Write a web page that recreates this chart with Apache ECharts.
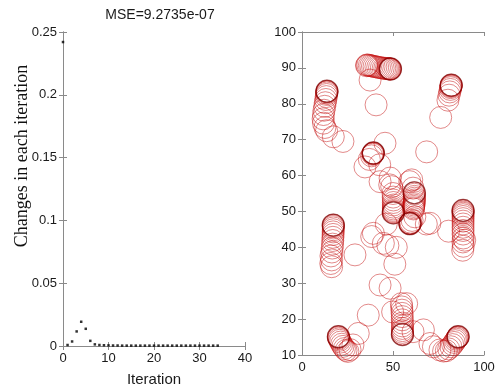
<!DOCTYPE html>
<html>
<head>
<meta charset="utf-8">
<script src="https://cdn.jsdelivr.net/npm/echarts@6/dist/echarts.min.js"></script>
<style>
  html, body { margin: 0; padding: 0; background: #fff; }
  #chart { width: 500px; height: 392px; }
</style>
</head>
<body>
<div id="chart"></div>
<script>
// left panel: change per iteration
const iterations = [0,1,2,3,4,5,6,7,8,9,10,11,12,13,14,15,16,17,18,19,20,21,22,23,24,25,26,27,28,29,30,31,32,33,34];
const changes = [0.242,0.0008,0.0036,0.0116,0.0193,0.0137,0.0041,0.0013,0.0008,0.0006,0.0005,0.0004,
  0.0004,0.0003,0.0003,0.0003,0.0003,0.0003,0.0003,0.0003,0.0003,0.0003,0.0003,0.0003,0.0003,0.0003,
  0.0003,0.0003,0.0003,0.0003,0.0003,0.0003,0.0003,0.0003,0.0003];
const leftYTicks = [0, 0.05, 0.1, 0.15, 0.2, 0.25];
const leftXTicks = [0, 10, 20, 30, 40];

// right panel: centre positions over the iterations, one list per centre
const topLeft = [[22.5,69.5],[17.2,70.8],[13.5,72.5],[12.6,73.4],[11.8,74.6],[11.6,75.8],[11.8,77],[12.1,78.2],
  [12.5,79.3],[12.8,80.3],[13.1,81.2],[13.3,82],[13.5,82.6],[13.6,83],[13.6,83.3],[13.7,83.4],[13.7,83.5]];
const topMid = [[40.7,79.7],[37.4,86.6],[35.5,90.6],[35.6,90.8],[36.2,90.8],[37,90.7],[37.8,90.6],[38.7,90.5],
  [39.6,90.4],[40.6,90.3],[41.6,90.2],[42.6,90.1],[43.6,90],[44.6,89.9],[45.5,89.9],[46.3,89.8],[47,89.8],
  [47.6,89.8],[48,89.7],[48.3,89.7],[48.5,89.7],[48.6,89.7]];
const topRight = [[68.5,66.6],[76.2,76.2],[80.2,81],[80.8,82.4],[81.2,83.3],[81.5,84],[81.7,84.5],[81.8,84.8],
  [81.9,85],[82,85.1],[82,85.2]];
const upperMid = [[45.6,69],[42.9,58.3],[42.7,63],[34.6,62.4],[37,64.5],[38.2,65.5],[38.8,65.9],[39,66.1],
  [39.1,66.2],[39.2,66.2],[39.2,66.3]];
const centreLeft = [[39.2,43.9],[38.3,43],[44.7,41.1],[47.2,40.5],[51.8,40],[51,35.3],[46.3,46.5],[59.2,58.3],
  [48.2,57.4],[48.4,59.3],[49.3,56.9],[50,55],[50.1,54],[50.2,53.2],[50.2,52.5],[50.2,51.8],[50.2,51.2],
  [50.2,50.7],[50.2,50.3],[50.2,50],[50.2,49.8],[50.2,49.6]];
const centreRight = [[60.3,58.8],[61,56.5],[61.2,50.7],[61.3,51],[61.4,51.4],[61.5,51.8],[61.6,52.2],[61.7,52.7],
  [61.8,53.2],[61.8,53.7],[61.8,54.2],[61.7,54.8],[61.7,55.2]];
const centreLow = [[70.3,46.7],[68.3,46.5],[62,48.5],[60.5,47.5],[59.8,47],[59.5,46.8],[59.3,46.7],[59.3,46.6],[59.3,46.6]];
const midRight = [[80.5,44.5],[89.4,42],[88.3,39.2],[88.6,40.3],[88.4,41.5],[88.6,42.6],[88.5,43.7],[88.5,44.7],
  [88.5,45.6],[88.5,46.5],[88.5,47.3],[88.5,48],[88.5,48.6],[88.5,49.1],[88.5,49.5],[88.5,49.8],[88.5,50.1],[88.5,50.3]];
const midLeft = [[29.1,37.9],[16.3,34.6],[15.8,35.5],[16.3,36.5],[15.9,37.6],[16.4,38.7],[16.6,39.8],[16.8,40.9],
  [16.9,41.9],[17,42.8],[17.1,43.6],[17.1,44.3],[17.2,44.9],[17.2,45.4],[17.2,45.8],[17.2,46.1],[17.2,46.2]];
const bottomLeft = [[36.4,21.1],[30.9,16],[28,12.8],[26.4,11.5],[25.2,11],[24.2,11.3],[23.3,11.8],[22.5,12.4],
  [21.8,13],[21.2,13.6],[20.7,14.1],[20.4,14.5],[20.1,14.8],[20,15],[20,15.1]];
const bottomMid = [[42.9,29.5],[48.4,28.6],[49.8,22],[57.5,24.3],[54.6,24.3],[54.8,23.4],[54.9,22.5],[55,21.6],
  [55.1,20.7],[55.1,19.8],[55.2,18.9],[55.2,18.1],[55.2,17.4],[55.2,16.8],[55.2,16.3],[55.2,15.9],[55.2,15.7]];
const bottomRight = [[61,16.5],[66.7,17],[70.3,13.2],[72.2,12.3],[75.8,11.4],[77.8,11.1],[79.3,11.2],[80.6,11.7],
  [81.8,12.3],[82.8,12.9],[83.6,13.5],[84.3,14],[84.8,14.4],[85.2,14.7],[85.5,14.9],[85.7,15],[85.8,15.1]];
const rightXTicks = [0, 50, 100];
const rightYTicks = [10, 20, 30, 40, 50, 60, 70, 80, 90, 100];

const centres = [topLeft, topMid, topRight, upperMid, centreLeft, centreRight, centreLow,
  midRight, midLeft, bottomLeft, bottomMid, bottomRight];

const font = "'Liberation Sans', Arial, sans-serif";
const axisGrey = "#8a8a8a";
const labelStyle = { color: "#1a1a1a", fontSize: 13, fontFamily: font };

function mainAxis(extra) {
  return {
    axisLine: { show: true, lineStyle: { color: axisGrey } },
    axisTick: { show: true, inside: true, length: 4, lineStyle: { color: axisGrey } },
    splitLine: { show: false },
    axisLabel: { ...labelStyle, margin: 6 },
    ...extra
  };
}
function mirrorAxis(extra) {
  return {
    axisLine: { show: true, lineStyle: { color: axisGrey } },
    axisTick: { show: true, inside: true, length: 4, lineStyle: { color: axisGrey } },
    splitLine: { show: false },
    axisLabel: { show: false },
    ...extra
  };
}

const chart = echarts.init(document.getElementById("chart"), null, { renderer: "canvas" });

const leftX = { min: leftXTicks[0], max: leftXTicks[leftXTicks.length - 1], interval: 10, gridIndex: 0 };
const leftY = { min: leftYTicks[0], max: leftYTicks[leftYTicks.length - 1], interval: 0.05, gridIndex: 0 };
const rightX = { min: rightXTicks[0], max: rightXTicks[rightXTicks.length - 1], interval: 50, gridIndex: 1 };
const rightY = { min: rightYTicks[0], max: rightYTicks[rightYTicks.length - 1], interval: 10, gridIndex: 1 };

const circleSeries = centres.map((pts) => ({
  type: "scatter",
  xAxisIndex: 1,
  yAxisIndex: 1,
  data: pts,
  symbol: "circle",
  symbolSize: 22,
  silent: true,
  itemStyle: { color: "rgba(0,0,0,0)", borderColor: "rgba(195,10,10,0.6)", borderWidth: 1 }
}));

chart.setOption({
  animation: false,
  backgroundColor: "#fff",
  title: {
    text: "MSE=9.2735e-07",
    left: 155,
    textAlign: "center",
    top: 3,
    textStyle: { fontSize: 14, fontWeight: "normal", color: "#1a1a1a", fontFamily: font }
  },
  grid: [
    { left: 63, top: 32, width: 182, height: 323 },
    { left: 302, top: 32, width: 182, height: 323 }
  ],
  xAxis: [
    mainAxis({ type: "value", ...leftX, name: "Iteration", nameLocation: "middle", nameGap: 26,
      nameTextStyle: { fontSize: 15, color: "#1a1a1a", fontFamily: font } }),
    mainAxis({ type: "value", ...rightX }),
    mirrorAxis({ type: "value", ...leftX, position: "top" }),
    mirrorAxis({ type: "value", ...rightX, position: "top" })
  ],
  yAxis: [
    mainAxis({ type: "value", ...leftY }),
    mainAxis({ type: "value", ...rightY }),
    mirrorAxis({ type: "value", ...leftY, position: "right" }),
    mirrorAxis({ type: "value", ...rightY, position: "right" })
  ],
  graphic: [{
    type: "text",
    x: 22,
    y: 156,
    rotation: Math.PI / 2,
    style: {
      text: "Changes in each iteration",
      font: "18px 'Liberation Serif', 'Times New Roman', serif",
      fill: "#111",
      align: "center",
      verticalAlign: "middle"
    }
  }],
  series: [
    {
      type: "scatter",
      xAxisIndex: 0,
      yAxisIndex: 0,
      data: iterations.map((it, i) => [it, changes[i]]),
      symbol: "rect",
      symbolSize: 2.5,
      silent: true,
      itemStyle: { color: "#000" }
    },
    ...circleSeries,
    {
      type: "scatter",
      xAxisIndex: 1,
      yAxisIndex: 1,
      data: centres.map((pts) => pts[pts.length - 1]),
      symbol: "circle",
      symbolSize: 22,
      silent: true,
      itemStyle: { color: "rgba(0,0,0,0)", borderColor: "rgba(110,0,0,0.75)", borderWidth: 1.3 }
    }
  ]
});
</script>
</body>
</html>
